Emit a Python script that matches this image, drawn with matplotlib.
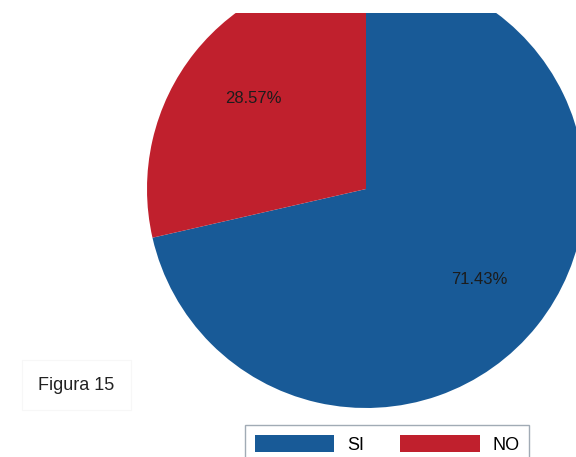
import matplotlib
matplotlib.use("Agg")
import matplotlib.pyplot as plt

labels = ["SI", "NO"]
values = [71.43, 28.57]
colors = ["#185a97", "#c0202d"]

plt.rcParams['font.family'] = ['Liberation Sans', 'DejaVu Sans']

W, H = 576, 457
fig = plt.figure(figsize=(W / 100, H / 100), dpi=100)

# pie geometry in pixels (center, radius, top clip line)
cx, cy, r, top = 366, 189, 219, 13
ax = fig.add_axes([0, 0, 1, (H - top) / H])
wedges, texts, autotexts = ax.pie(values, colors=colors, startangle=90, counterclock=False,
                                  autopct='%.2f%%', pctdistance=0.66,
                                  wedgeprops={'clip_on': True},
                                  textprops={'fontsize': 12, 'color': '#1c1c1c'})
ax.set_aspect('auto')
ax.set_xlim(-cx / r, (W - cx) / r)
ax.set_ylim(-(H - cy) / r, (cy - top) / r)
ax.axis('off')

fig.text(38 / W, 1 - 385 / H, "Figura 15", fontsize=13, ha='left', va='center', color='#222222',
         bbox=dict(boxstyle='square,pad=0.9', fc='white', ec='#f7f7f7', lw=0.8))

leg = fig.legend(wedges, labels, loc='upper left', bbox_to_anchor=(245 / W, 1 - 425 / H),
                 ncol=2, fontsize=13, handlelength=4.4, handleheight=1.1, handletextpad=0.7,
                 columnspacing=2.0, borderpad=0.55, borderaxespad=0, fancybox=False,
                 frameon=True, edgecolor='#8a96a3')
leg.get_frame().set_linewidth(1.0)

fig.savefig("out.png", dpi=100)
